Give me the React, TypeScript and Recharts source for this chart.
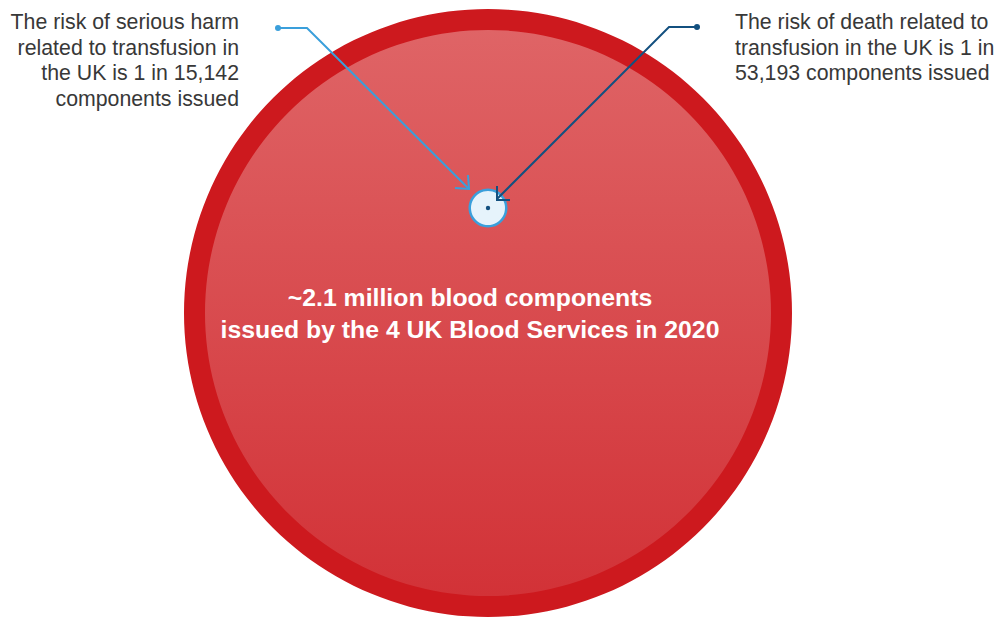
import React from 'react';
import { PieChart, Pie, Cell } from 'recharts';

// Values
const totalIssued = [{ name: 'Blood components issued, 2020', value: 2100000 }];
const riskBands = [
  { name: 'Serious harm', oneIn: 15142 },
  { name: 'Death', oneIn: 53193 },
];
const centreLines = ['~2.1 million blood components', 'issued by the 4 UK Blood Services in 2020'];
const harmLines = ['The risk of serious harm', 'related to transfusion in', 'the UK is 1 in 15,142', 'components issued'];
const deathLines = ['The risk of death related to', 'transfusion in the UK is 1 in', '53,193 components issued'];

const W = 1003;
const H = 619;
const CX = 488;
const CY = 313;
const R_OUTER = 304;
const R_INNER = 283;
const R_SMALL = 18;
const SMALL_CY = 208;

const FONT = '"Liberation Sans", Arial, Helvetica, sans-serif';
const LIGHT_BLUE = '#3a9fdb';
const DARK_BLUE = '#13507f';

const Annotations = () => {
  const lineH = 25.5;
  return (
    <svg width={W} height={H} style={{ position: 'absolute', left: 0, top: 0, pointerEvents: 'none' }}>
      {/* death marker inside the serious-harm circle */}
      <circle cx={CX} cy={SMALL_CY} r={2.2} fill={DARK_BLUE} />
      {/* serious harm leader */}
      <polyline points="278,28 307,28 468,188" fill="none" stroke={LIGHT_BLUE} strokeWidth={2} />
      <polyline points="455,188 469,189 468,175" fill="none" stroke={LIGHT_BLUE} strokeWidth={2} />
      <circle cx={278} cy={28} r={3} fill={LIGHT_BLUE} />
      {/* death leader */}
      <polyline points="697,27 669,27 497,199" fill="none" stroke={DARK_BLUE} strokeWidth={2} />
      <polyline points="497,186 497,200 510,200" fill="none" stroke={DARK_BLUE} strokeWidth={2} />
      <circle cx={697} cy={27} r={3} fill={DARK_BLUE} />

      <text x={239} y={29} textAnchor="end" fontFamily={FONT} fontSize={21.3} fill="#383838">
        {harmLines.map((l, i) => (
          <tspan key={l} x={239} dy={i === 0 ? 0 : lineH}>
            {l}
          </tspan>
        ))}
      </text>
      <text x={735} y={29} textAnchor="start" fontFamily={FONT} fontSize={21.3} fill="#383838">
        {deathLines.map((l, i) => (
          <tspan key={l} x={735} dy={i === 0 ? 0 : lineH}>
            {l}
          </tspan>
        ))}
      </text>
      <text x={470} y={306} textAnchor="middle" fontFamily={FONT} fontSize={24.8} fontWeight={700} fill="#ffffff">
        {centreLines.map((l, i) => (
          <tspan key={l} x={470} dy={i === 0 ? 0 : 32}>
            {l}
          </tspan>
        ))}
      </text>
    </svg>
  );
};

export default function App() {
  const smallData = [{ name: `1 in ${riskBands[0].oneIn}`, value: totalIssued[0].value / riskBands[0].oneIn }];
  const full = { startAngle: 90, endAngle: -270, stroke: 'none', isAnimationActive: false, innerRadius: 0 };
  return (
    <div style={{ position: 'relative', width: W, height: H, background: '#fff' }}>
      <style>{'body{margin:0}'}</style>
      <PieChart width={W} height={H} margin={{ top: 0, right: 0, bottom: 0, left: 0 }}>
        <defs>
          <linearGradient id="bloodFill" x1="0" y1="0" x2="0" y2="1">
            <stop offset="0%" stopColor="#df6466" />
            <stop offset="100%" stopColor="#d23237" />
          </linearGradient>
        </defs>
        <Pie data={totalIssued} dataKey="value" cx={CX} cy={CY} outerRadius={R_OUTER} {...full}>
          {totalIssued.map((d) => (
            <Cell key={d.name} fill="#cd191e" />
          ))}
        </Pie>
        <Pie data={totalIssued} dataKey="value" cx={CX} cy={CY} outerRadius={R_INNER} {...full}>
          {totalIssued.map((d) => (
            <Cell key={d.name} fill="url(#bloodFill)" />
          ))}
        </Pie>
        <Pie data={smallData} dataKey="value" cx={CX} cy={SMALL_CY} outerRadius={R_SMALL} {...full}>
          {smallData.map((d) => (
            <Cell key={d.name} fill="#e6f3fb" />
          ))}
        </Pie>
        <Pie
          data={smallData}
          dataKey="value"
          cx={CX}
          cy={SMALL_CY}
          {...full}
          innerRadius={R_SMALL - 1}
          outerRadius={R_SMALL + 1.5}
        >
          {smallData.map((d) => (
            <Cell key={d.name} fill={LIGHT_BLUE} />
          ))}
        </Pie>
      </PieChart>
      <Annotations />
    </div>
  );
}
